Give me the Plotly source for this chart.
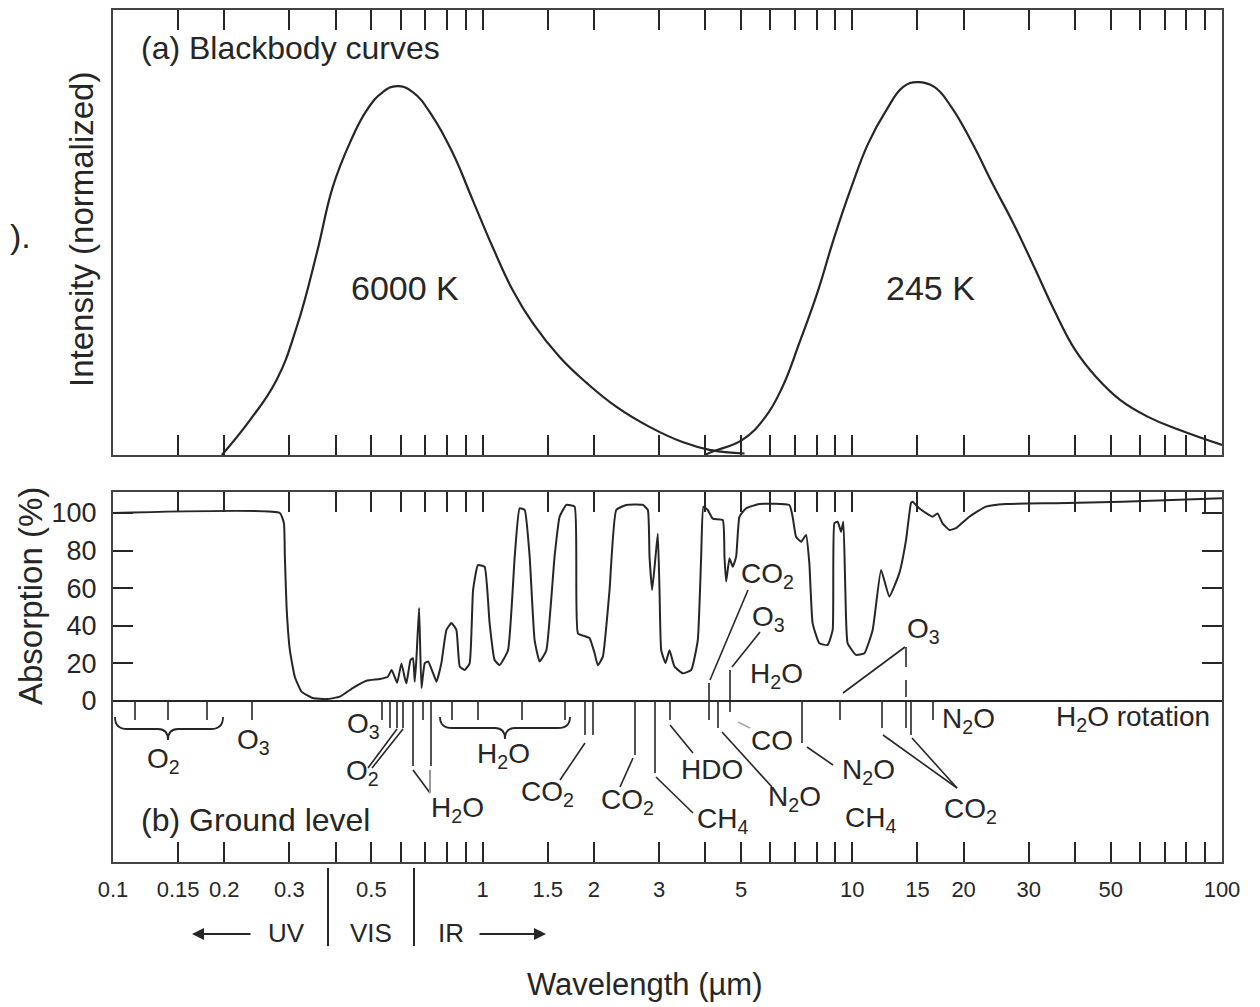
import plotly.graph_objects as go

# ---------------- data ----------------
# Blackbody curves (normalized intensity vs wavelength, um)
lam_6000 = [0.197, 0.235, 0.277, 0.314, 0.356, 0.393, 0.437, 0.486, 0.537, 0.586, 0.647, 0.733,
            0.830, 0.940, 1.064, 1.205, 1.365, 1.615, 1.910, 2.302, 2.827, 3.471, 4.108, 5.11]
int_6000 = [0.0, 0.095, 0.203, 0.346, 0.546, 0.724, 0.843, 0.932, 0.981, 0.997, 0.981, 0.914,
            0.816, 0.689, 0.562, 0.446, 0.357, 0.265, 0.195, 0.130, 0.076, 0.035, 0.014, 0.004]

lam_245 = [3.98, 4.21, 5.04, 5.82, 6.47, 7.19, 8.04, 8.94, 9.94, 11.05, 12.36, 13.73, 14.99,
           16.66, 18.52, 21.10, 23.90, 27.23, 31.04, 35.14, 40.06, 45.64, 53.00, 63.1, 76.5, 100]
int_245 = [0.0, 0.010, 0.041, 0.103, 0.184, 0.303, 0.438, 0.589, 0.724, 0.843, 0.932, 0.995, 1.008,
           0.995, 0.941, 0.843, 0.735, 0.627, 0.508, 0.392, 0.284, 0.211, 0.149, 0.103, 0.068, 0.027]

# Ground-level absorption (%)
lam_abs = [0.1, 0.2827, 0.290, 0.2917, 0.2948, 0.3009, 0.3104, 0.3236, 0.347, 0.378, 0.411, 0.445,
           0.485, 0.527, 0.554, 0.567, 0.578, 0.587, 0.603, 0.616, 0.622, 0.638, 0.648, 0.655,
           0.662, 0.673, 0.683, 0.697, 0.712, 0.734, 0.750, 0.773, 0.798, 0.823, 0.849, 0.867,
           0.894, 0.922, 0.942, 0.971, 1.012, 1.044, 1.077, 1.111, 1.171, 1.221, 1.259, 1.299,
           1.340, 1.382, 1.426, 1.487, 1.565, 1.615, 1.684, 1.773, 1.810, 1.907, 1.946, 2.008,
           2.049, 2.114, 2.204, 2.298, 2.445, 2.712, 2.798, 2.827, 2.874, 2.935, 2.977, 3.009,
           3.041, 3.123, 3.202, 3.303, 3.479, 3.665, 3.819, 3.900, 3.956, 4.063, 4.191, 4.461,
           4.509, 4.556, 4.652, 4.748, 4.850, 4.950, 5.161, 5.607, 6.755, 6.895, 7.042, 7.267,
           7.496, 7.651, 7.810, 8.142, 8.574, 8.848, 8.942, 9.128, 9.322, 9.456, 9.574, 9.712,
           10.23, 10.78, 11.35, 11.96, 12.59, 13.40, 13.97, 14.41, 14.55, 15.17, 16.15, 16.48,
           17.00, 17.54, 18.29, 19.07, 20.72, 22.98, 26.03, 35.53, 53.77, 100]
abs_pct = [100, 100, 94.5, 76.6, 50, 27, 12.8, 5, 1.6, 1, 2.3, 6.9,
           10.8, 11.7, 12.9, 16.5, 12.9, 9.7, 20, 12, 9.4, 21.8, 22.8, 10.3,
           22.8, 49.5, 6.9, 20, 21, 14.9, 10.3, 20, 37.8, 41.5, 37.8, 18.3,
           16.5, 20, 59, 72.3, 71.4, 41.5, 21.8, 19.1, 27, 76.8, 102.5, 101.6,
           76.8, 32.4, 21, 27, 76.8, 98, 104.3, 103.4, 36, 34.2, 33.5, 25.5,
           19, 23.6, 59, 101.6, 104.3, 104.3, 101.6, 76.8, 59, 76.8, 89, 59,
           27, 20.2, 27, 18.3, 14.7, 16.5, 32.4, 76.8, 103.4, 101.6, 97, 96.3,
           76.8, 63.5, 75.9, 71.4, 76.8, 98, 102.5, 104.8, 104.3, 98, 87.4, 84.7,
           88.3, 73.2, 41.3, 30.7, 29.8, 37.8, 94.5, 95.4, 90, 95.4, 59, 30.7,
           24.5, 25.4, 37.8, 69.7, 55.5, 68, 85.6, 105.3, 106, 102.5, 98.9, 98,
           99.8, 94.5, 91, 91.9, 98, 103.4, 104.8, 105.2, 106, 107.8]

major_ticks = [0.1, 0.15, 0.2, 0.3, 0.5, 1, 1.5, 2, 3, 5, 10, 15, 20, 30, 50, 100]
major_text = ["0.1", "0.15", "0.2", "0.3", "0.5", "1", "1.5", "2", "3", "5",
              "10", "15", "20", "30", "50", "100"]
minor_ticks = [0.4, 0.6, 0.7, 0.8, 0.9, 4, 6, 7, 8, 9, 40, 60, 70, 80, 90]
abs_ticks = [0, 20, 40, 60, 80, 100]

# ---------------- layout helpers (reference pixel -> paper) ----------------
# the page body adds an 8 px offset, so the figure is placed 8 px in from the corner
OFF = 8
W, H = 1260 - OFF, 1007 - OFF
ML, MR, MT, MB = 113 - OFF, 38, 2, 145
PW, PH = W - ML - MR, H - MT - MB
PLOT_TOP = 862 - PH  # page y of the top frame


def X(px):
    return (px - 113) / PW


def Y(py):
    return (862 - py) / PH


INK = "#262626"
FONT = "Liberation Sans, Arial, sans-serif"

fig = go.Figure()
fig.add_trace(go.Scatter(x=lam_6000, y=int_6000, xaxis="x", yaxis="y", mode="lines",
                         line=dict(color=INK, width=2.2, shape="spline", smoothing=1.25),
                         showlegend=False, hoverinfo="skip"))
fig.add_trace(go.Scatter(x=lam_245, y=int_245, xaxis="x", yaxis="y", mode="lines",
                         line=dict(color=INK, width=2.2, shape="spline", smoothing=1.25),
                         showlegend=False, hoverinfo="skip"))
fig.add_trace(go.Scatter(x=lam_abs, y=abs_pct, xaxis="x2", yaxis="y2", mode="lines",
                         line=dict(color=INK, width=2.0, shape="spline", smoothing=0.4),
                         showlegend=False, hoverinfo="skip"))

common_x = dict(type="log", range=[-1, 2], tickmode="array", tickvals=major_ticks,
                ticktext=major_text, ticks="inside", ticklen=20, tickwidth=1.6, tickcolor=INK,
                minor=dict(tickmode="array", tickvals=minor_ticks, ticks="inside", ticklen=20,
                           tickwidth=1.6, tickcolor=INK, showgrid=False),
                showline=True, linecolor="#444", linewidth=2, mirror="ticks",
                showgrid=False, zeroline=False, automargin=False, tickangle=0)

top_bottom_px, bot_top_px = 455, 492
fig.update_layout(
    width=W, height=H,
    margin=dict(l=ML, r=MR, t=MT, b=MB, autoexpand=False),
    plot_bgcolor="white", paper_bgcolor="white",
    font=dict(family=FONT, color=INK),
    xaxis=dict(**common_x, anchor="y", showticklabels=False, domain=[0, 1]),
    xaxis2=dict(**common_x, anchor="y2", showticklabels=True, domain=[0, 1],
                tickfont=dict(family=FONT, size=22, color=INK), ticklabelstandoff=7),
    yaxis=dict(domain=[Y(top_bottom_px), 1], range=[0, (top_bottom_px - PLOT_TOP) / 370],
               showline=True, mirror=True, linecolor="#444", linewidth=2, ticks="",
               showticklabels=False, showgrid=False, zeroline=False, automargin=False),
    yaxis2=dict(domain=[0, Y(bot_top_px)], range=[(701 - 862) / 1.88, (701 - 492) / 1.88],
                tickmode="array", tickvals=abs_ticks, ticks="inside", ticklen=20,
                tickwidth=1.6, tickcolor=INK, showline=True, mirror="ticks", linecolor="#444",
                linewidth=2, showgrid=False, zeroline=True, zerolinecolor=INK,
                zerolinewidth=2, tickfont=dict(size=27, color=INK), ticklabelstandoff=9,
                automargin=False),
)

shapes = []


def seg(x0, y0, x1, y1, color=INK, width=1.6):
    shapes.append(dict(type="line", xref="paper", yref="paper", x0=X(x0), y0=Y(y0),
                       x1=X(x1), y1=Y(y1), line=dict(color=color, width=width)))


def brace(xl, xr, xm, yt, yl, yd):
    p = (f"M {X(xl)},{Y(yt)} Q {X(xl)},{Y(yl)} {X(xl + 12)},{Y(yl)} "
         f"L {X(xm - 10)},{Y(yl)} Q {X(xm)},{Y(yl)} {X(xm)},{Y(yd)} "
         f"Q {X(xm)},{Y(yl)} {X(xm + 10)},{Y(yl)} "
         f"L {X(xr - 12)},{Y(yl)} Q {X(xr)},{Y(yl)} {X(xr)},{Y(yt)}")
    shapes.append(dict(type="path", xref="paper", yref="paper", path=p,
                       line=dict(color=INK, width=1.8)))


annots = []


def label(txt, px, py, size=28, anchor="center", **kw):
    annots.append(dict(text=txt, x=X(px), y=Y(py), xref="paper", yref="paper",
                       showarrow=False, xanchor=anchor, yanchor="middle",
                       font=dict(size=size, color=INK, family=kw.get("family", FONT)),
                       textangle=kw.get("angle", 0)))


# --- absorber markers below the zero line ---
for xx in (135, 168, 207):
    seg(xx, 702, xx, 720)
brace(115, 223, 168, 717, 729, 740)
label("O<sub>2</sub>", 163, 760)
seg(252, 702, 252, 720)
label("O<sub>3</sub>", 253, 741)

seg(382, 702, 382, 720)
for xx in (390, 397, 403):
    seg(xx, 702, xx, 728)
seg(397, 729, 368, 768)
seg(403, 729, 372, 768)
label("O<sub>3</sub>", 363, 725)
label("O<sub>2</sub>", 362, 772)

seg(413, 702, 413, 766)
seg(423, 702, 423, 720)
seg(431, 702, 431, 766)
seg(413, 770, 430, 793)
seg(430, 770, 430, 793, color="#9a9a9a", width=2)
label("H<sub>2</sub>O", 457, 809)

for xx in (452, 478, 522, 565):
    seg(xx, 702, xx, 720)
brace(440, 570, 505, 717, 728, 739)
label("H<sub>2</sub>O", 503, 755)

seg(585, 702, 585, 735)
seg(593, 702, 593, 735)
seg(585, 743, 560, 780)
label("CO<sub>2</sub>", 547, 793)

seg(635, 702, 635, 755)
seg(633, 758, 620, 787)
label("CO<sub>2</sub>", 627, 801)

seg(655, 702, 655, 773)
seg(656, 777, 693, 813)
label("CH<sub>4</sub>", 722, 820)

seg(670, 702, 670, 720)
seg(670, 725, 693, 753)
label("HDO", 712, 769)

seg(709, 683, 709, 720)
seg(710, 680, 748, 590)
label("CO<sub>2</sub>", 767, 575)

seg(730, 670, 730, 712)
seg(732, 667, 760, 632)
label("O<sub>3</sub>", 768, 618)
label("H<sub>2</sub>O", 776, 675)

seg(718, 702, 718, 728)
seg(722, 732, 772, 787)
label("N<sub>2</sub>O", 794, 798)

seg(738, 722, 750, 728, color="#a8a8a8", width=1.6)
label("CO", 772, 740)

seg(802, 702, 802, 743)
seg(807, 747, 833, 765)
label("N<sub>2</sub>O", 868, 771)
label("CH<sub>4</sub>", 870, 819)

seg(843, 693, 905, 647)
seg(906, 647, 906, 667)
seg(906, 680, 906, 697)
label("O<sub>3</sub>", 923, 630)

seg(840, 702, 840, 720)
seg(882, 702, 882, 728)
seg(906, 702, 906, 728)
seg(911, 702, 911, 735)
seg(933, 702, 933, 720)
seg(883, 735, 957, 788)
seg(912, 738, 957, 788)
label("CO<sub>2</sub>", 970, 810)
label("N<sub>2</sub>O", 968, 720)
label("H<sub>2</sub>O rotation", 1133, 718)

# --- panel texts ---
label("(a) Blackbody curves", 139, 48, size=32, anchor="left")
label("(b) Ground level", 139, 820, size=32, anchor="left")
label("6000 K", 405, 288, size=34)
label("245 K", 930, 288, size=34)
label("Intensity (normalized)", 82, 230, size=33, angle=-90)
label("Absorption (%)", 30, 596, size=33, angle=-90)
label(").", 20, 236, size=34)

# --- spectral region strip below the axis ---
seg(328, 868, 328, 946, width=2)
seg(414, 868, 414, 946, width=2)
label("UV", 286, 933, size=26)
label("VIS", 371, 933, size=26)
label("IR", 451, 933, size=26)
for head, tail in ((192, 252), (546, 478)):
    annots.append(dict(text="", x=X(head), y=Y(934), ax=tail - head, ay=0,
                       xref="paper", yref="paper", axref="pixel", ayref="pixel",
                       showarrow=True, arrowhead=2, arrowsize=1.2, arrowwidth=2,
                       arrowcolor=INK))
label("Wavelength (µm)", 645, 984, size=31)

fig.update_layout(shapes=shapes, annotations=annots)
fig.write_html("out.html")
